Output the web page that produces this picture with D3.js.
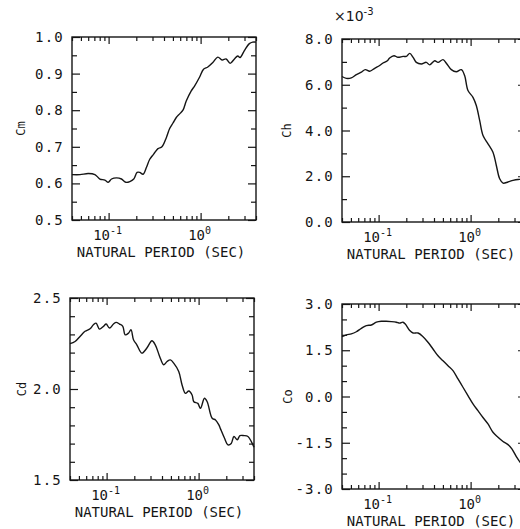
<!DOCTYPE html>
<html>
<head>
<meta charset="utf-8">
<script src="https://cdn.jsdelivr.net/npm/d3@7"></script>
<style>
  body { margin: 0; background: #fff; }
  svg { display: block; }
</style>
</head>
<body>
<svg id="chart" width="520" height="529"></svg>
<script>
// natural period range shared by all four panels (log axis)
const periodDomain = [0.04, 4];

// Cm (inertia coefficient)
const cmPeriod = [0.040,0.0489,0.0601,0.0710,0.0804,0.0911,0.0990,0.1076,0.122,0.138,0.154,0.170,0.1876,0.204,0.218,0.237,0.258,0.280,0.309,0.344,0.380,0.424,0.461,0.501,0.544,0.592,0.643,0.698,0.791,0.859,0.973,1.076,1.198,1.357,1.537,1.713,1.892,2.092,2.331,2.532,2.685,2.99,3.387,3.68,4.0];
const cmValue  = [0.624,0.624,0.627,0.624,0.612,0.609,0.603,0.612,0.615,0.612,0.603,0.605,0.612,0.630,0.630,0.625,0.644,0.666,0.680,0.695,0.700,0.725,0.750,0.765,0.780,0.790,0.800,0.825,0.853,0.866,0.890,0.912,0.918,0.930,0.945,0.937,0.940,0.928,0.940,0.948,0.944,0.963,0.982,0.986,0.986];
const cmLabels = ['0.5','0.6','0.7','0.8','0.9','1.0'];

// Ch (x10^-3)
const chPeriod = [0.040,0.0446,0.0505,0.0573,0.0649,0.0717,0.080,0.0906,0.1026,0.1116,0.1245,0.1318,0.1469,0.1624,0.184,0.200,0.218,0.237,0.257,0.291,0.330,0.359,0.407,0.442,0.501,0.545,0.617,0.699,0.793,0.861,0.936,1.061,1.153,1.254,1.364,1.545,1.75,1.904,2.07,2.25,2.55,2.89,3.27,3.56];
const chValue  = [6.36,6.28,6.30,6.44,6.55,6.66,6.59,6.72,6.84,6.95,7.05,7.17,7.27,7.20,7.24,7.24,7.37,7.20,6.98,6.91,6.98,6.87,7.05,6.98,7.10,6.94,6.66,6.57,6.66,6.40,5.75,5.45,5.09,4.44,3.78,3.42,3.05,2.47,1.89,1.70,1.75,1.82,1.86,1.86];
const chLabels = ['0.0','2.0','4.0','6.0','8.0'];

// Cd (drag coefficient)
const cdPeriod = [0.040,0.0454,0.0514,0.0583,0.0661,0.0719,0.0769,0.0836,0.0924,0.0989,0.1074,0.1188,0.127,0.138,0.150,0.159,0.173,0.184,0.196,0.213,0.242,0.274,0.311,0.338,0.377,0.417,0.454,0.493,0.536,0.608,0.661,0.719,0.782,0.849,0.887,0.980,1.047,1.158,1.239,1.404,1.527,1.660,1.730,1.914,2.081,2.263,2.421,2.632,2.813,3.11,3.44,3.74,4.0];
const cdValue  = [2.249,2.261,2.289,2.317,2.331,2.353,2.362,2.329,2.344,2.357,2.335,2.357,2.366,2.357,2.344,2.298,2.307,2.326,2.271,2.243,2.197,2.225,2.265,2.243,2.179,2.133,2.151,2.160,2.142,2.096,2.022,1.976,1.989,1.967,1.930,1.921,1.894,1.949,1.930,1.839,1.830,1.803,1.781,1.729,1.693,1.701,1.739,1.721,1.744,1.744,1.739,1.711,1.680];
const cdLabels = ['1.5','2.0','2.5'];

// Co
const coPeriod = [0.040,0.0446,0.0505,0.0573,0.0649,0.0736,0.0834,0.0945,0.107,0.121,0.1375,0.156,0.1694,0.184,0.195,0.218,0.237,0.268,0.304,0.344,0.390,0.442,0.501,0.568,0.643,0.729,0.826,0.936,1.061,1.202,1.362,1.545,1.75,1.983,2.25,2.55,2.81,3.14,3.56];
const coValue  = [1.94,2.00,2.03,2.10,2.21,2.30,2.32,2.41,2.44,2.44,2.43,2.41,2.38,2.41,2.35,2.14,2.06,2.06,1.94,1.76,1.54,1.32,1.16,1.00,0.84,0.57,0.30,0.03,-0.24,-0.46,-0.68,-0.89,-1.16,-1.32,-1.46,-1.56,-1.70,-1.95,-2.19];
const coLabels = ['-3.0','-1.5','0.0','1.5','3.0'];

const periodMajor = [0.1, 1];
const periodMajorExp = ['-1', '0'];
const xTitle = 'NATURAL PERIOD (SEC)';

const INK = '#151515';
const MONO = "'DejaVu Sans Mono', 'Liberation Mono', monospace";
const W = 184;

const panels = [
  { title: 'Cm', period: cmPeriod, value: cmValue, labels: cmLabels, step: 0.05, left: 72,  top: 37,  h: 183, tx: 21 },
  { title: 'Ch', period: chPeriod, value: chValue, labels: chLabels, step: 1,    left: 342, top: 39,  h: 183, tx: 287, scaleNote: '-3' },
  { title: 'Cd', period: cdPeriod, value: cdValue, labels: cdLabels, step: 0.1,  left: 70,  top: 298, h: 182, tx: 22 },
  { title: 'Co', period: coPeriod, value: coValue, labels: coLabels, step: 0.5,  left: 342, top: 304, h: 185, tx: 288 }
];

const svg = d3.select('#chart');

panels.forEach(p => {
  const x = d3.scaleLog().domain(periodDomain).range([p.left, p.left + W]);
  const majors = p.labels.map(Number);
  const lo = d3.min(majors), hi = d3.max(majors);
  const y = d3.scaleLinear().domain([lo, hi]).range([p.top + p.h, p.top]);
  const yMinor = d3.range(lo, hi + p.step / 2, p.step).filter(v => !majors.some(m => Math.abs(m - v) < 1e-9));
  const xMinor = x.ticks().filter(v => !periodMajor.includes(v));

  const g = svg.append('g');

  // inward ticks on all four sides
  const addAxis = (axis, tx, ty) => {
    const a = g.append('g').attr('transform', `translate(${tx},${ty})`).call(axis);
    a.select('.domain').remove();
    a.selectAll('line').attr('stroke', INK).attr('stroke-width', 1.2);
  };
  addAxis(d3.axisLeft(y).tickValues(majors).tickSize(-8).tickFormat(''), p.left, 0);
  addAxis(d3.axisLeft(y).tickValues(yMinor).tickSize(-5).tickFormat(''), p.left, 0);
  addAxis(d3.axisRight(y).tickValues(majors).tickSize(-8).tickFormat(''), p.left + W, 0);
  addAxis(d3.axisRight(y).tickValues(yMinor).tickSize(-5).tickFormat(''), p.left + W, 0);
  addAxis(d3.axisBottom(x).tickValues(periodMajor).tickSize(-7).tickFormat(''), 0, p.top + p.h);
  addAxis(d3.axisBottom(x).tickValues(xMinor).tickSize(-4).tickFormat(''), 0, p.top + p.h);
  addAxis(d3.axisTop(x).tickValues(periodMajor).tickSize(-7).tickFormat(''), 0, p.top);
  addAxis(d3.axisTop(x).tickValues(xMinor).tickSize(-4).tickFormat(''), 0, p.top);

  g.append('rect')
    .attr('x', p.left).attr('y', p.top).attr('width', W).attr('height', p.h)
    .attr('fill', 'none').attr('stroke', INK).attr('stroke-width', 1.4);

  // curve
  const line = d3.line()
    .x((d, i) => x(p.period[i]))
    .y(d => y(d))
    .curve(d3.curveCatmullRom.alpha(0.5));
  g.append('path')
    .attr('d', line(p.value))
    .attr('fill', 'none').attr('stroke', INK).attr('stroke-width', 1.4)
    .attr('stroke-linejoin', 'round');

  // y tick labels
  g.selectAll('text.ylab').data(p.labels).enter().append('text')
    .attr('class', 'ylab')
    .attr('x', p.left - 8).attr('y', d => y(+d)).attr('dy', '0.36em')
    .attr('text-anchor', 'end')
    .style('font-family', MONO).style('font-size', '14px').style('letter-spacing', '1.2px')
    .attr('fill', INK)
    .text(d => d);

  // x tick labels 10^n
  periodMajor.forEach((v, i) => {
    const t = g.append('text')
      .attr('x', x(v) - 1).attr('y', p.top + p.h + 20)
      .attr('text-anchor', 'middle')
      .style('font-family', MONO).style('font-size', '14px')
      .attr('fill', INK);
    t.append('tspan').text('10');
    t.append('tspan').attr('dy', -6).style('font-size', '10px').text(periodMajorExp[i]);
  });

  g.append('text')
    .attr('x', p.left + W / 2 - 3).attr('y', p.top + p.h + 37)
    .attr('text-anchor', 'middle')
    .style('font-family', MONO).style('font-size', '14px')
    .attr('fill', INK)
    .text(xTitle);

  // y title, rotated
  g.append('text')
    .attr('transform', `translate(${p.tx},${p.top + p.h / 2}) rotate(-90)`)
    .attr('text-anchor', 'middle').attr('dy', '0.35em')
    .style('font-family', MONO).style('font-size', '12px')
    .attr('fill', INK)
    .text(p.title);

  if (p.scaleNote) {
    const t = g.append('text')
      .attr('x', p.left - 8).attr('y', p.top - 18)
      .style('font-family', "'DejaVu Sans', sans-serif").style('font-size', '14px')
      .attr('fill', INK);
    t.append('tspan').text('\u00d710');
    t.append('tspan').attr('dy', -6).style('font-size', '10px').text(p.scaleNote);
  }
});
</script>
</body>
</html>
